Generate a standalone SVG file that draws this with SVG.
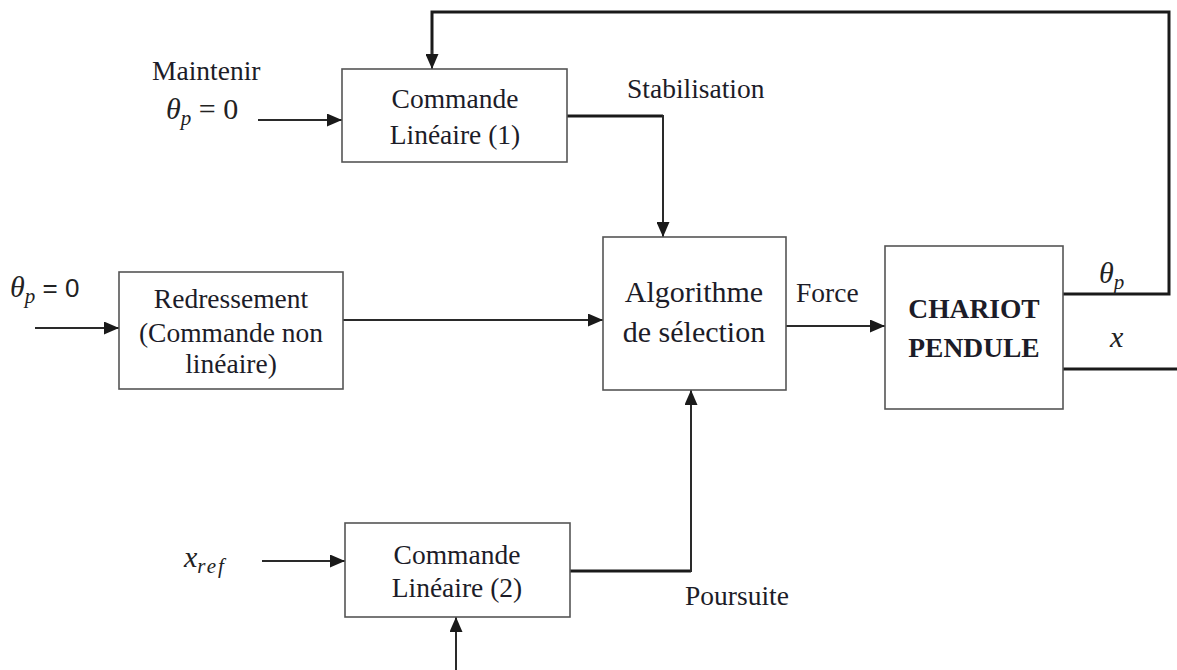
<svg xmlns="http://www.w3.org/2000/svg" width="1177" height="670" viewBox="0 0 1177 670">
<defs>
<marker id="ah" viewBox="0 0 15 13" refX="15" refY="6.5" markerWidth="15" markerHeight="13" markerUnits="userSpaceOnUse" orient="auto">
<path d="M0,0 L15,6.5 L0,13 z" fill="#1a1a1a"/>
</marker>
<style>
.box{fill:#fff;stroke:#555;stroke-width:1.6}
.t{font-family:"Liberation Serif","Times New Roman",serif;font-size:27.5px;fill:#1c1c28;text-anchor:middle}
.tl{font-family:"Liberation Serif","Times New Roman",serif;font-size:27.5px;fill:#1c1c28}
.b{font-weight:bold;font-size:27.5px}
.m{font-family:"Liberation Serif","DejaVu Serif",serif;font-style:italic;font-size:30px;fill:#222}
.n{font-family:"Liberation Serif","DejaVu Serif",serif;font-style:normal;font-size:30px;fill:#222}
.ns{font-family:"Liberation Sans","Noto Sans",sans-serif;font-style:normal;font-size:26px;fill:#222}
.sub{font-size:21px}
.c{fill:none;stroke:#2a2a2a;stroke-width:2}
.k{fill:none;stroke:#1a1a1a;stroke-width:3}
</style>
</defs>
<rect width="1177" height="670" fill="#fff"/>
<g id="connectors">
<path class="k" d="M1063,294 H1169 V12 H432 V55"/>
<path class="c" d="M432,50 V69" marker-end="url(#ah)"/>
<path class="c" d="M258,120 H342" marker-end="url(#ah)"/>
<path class="k" d="M567,116 H663"/>
<path class="c" d="M663,115 V237" marker-end="url(#ah)"/>
<path class="c" d="M35,328 H119" marker-end="url(#ah)"/>
<path class="c" d="M343,320 H603" marker-end="url(#ah)"/>
<path class="c" d="M786,326 H885" marker-end="url(#ah)"/>
<path class="k" d="M1063,369 H1177"/>
<path class="c" d="M262,561 H345" marker-end="url(#ah)"/>
<path class="k" d="M570,571 H691"/>
<path class="c" d="M691,572 V390" marker-end="url(#ah)"/>
<path class="c" d="M456,670 V617" marker-end="url(#ah)"/>
</g>
<g id="labels">
<text class="tl" x="152" y="80">Maintenir</text>
<text class="m" x="166" y="119">θ<tspan class="sub" dy="6">p</tspan><tspan class="n" dy="-6"> = 0</tspan></text>
<text class="m" x="10" y="297">θ<tspan class="sub" dy="6">p</tspan><tspan class="ns" dy="-6"> = 0</tspan></text>
<text class="tl" x="627" y="98">Stabilisation</text>
<text class="tl" x="796" y="302">Force</text>
<text class="m" x="1099" y="283">θ<tspan class="sub" dy="6">p</tspan></text>
<text class="m" x="1110" y="347">x</text>
<text class="m" x="184" y="567">x<tspan class="sub" dy="6" letter-spacing="2">ref</tspan></text>
<text class="tl" x="685" y="605">Poursuite</text>
</g>
<g id="cmd1">
<rect class="box" x="342" y="69" width="225" height="93"/>
<text class="t" x="455" y="108">Commande</text>
<text class="t" x="455" y="144">Linéaire (1)</text>
</g>
<g id="redressement">
<rect class="box" x="119" y="272" width="224" height="117"/>
<text class="t" x="231" y="308">Redressement</text>
<text class="t" x="231" y="342">(Commande non</text>
<text class="t" x="231" y="373">linéaire)</text>
</g>
<g id="algo">
<rect class="box" x="603" y="237" width="183" height="153"/>
<text class="t" x="694" y="302" style="font-size:30px">Algorithme</text>
<text class="t" x="694" y="342" style="font-size:30px">de sélection</text>
</g>
<g id="chariot">
<rect class="box" x="885" y="246" width="178" height="163"/>
<text class="t b" x="974" y="318">CHARIOT</text>
<text class="t b" x="974" y="357">PENDULE</text>
</g>
<g id="cmd2">
<rect class="box" x="345" y="523" width="225" height="94"/>
<text class="t" x="457" y="564">Commande</text>
<text class="t" x="457" y="597">Linéaire (2)</text>
</g>
</svg>
